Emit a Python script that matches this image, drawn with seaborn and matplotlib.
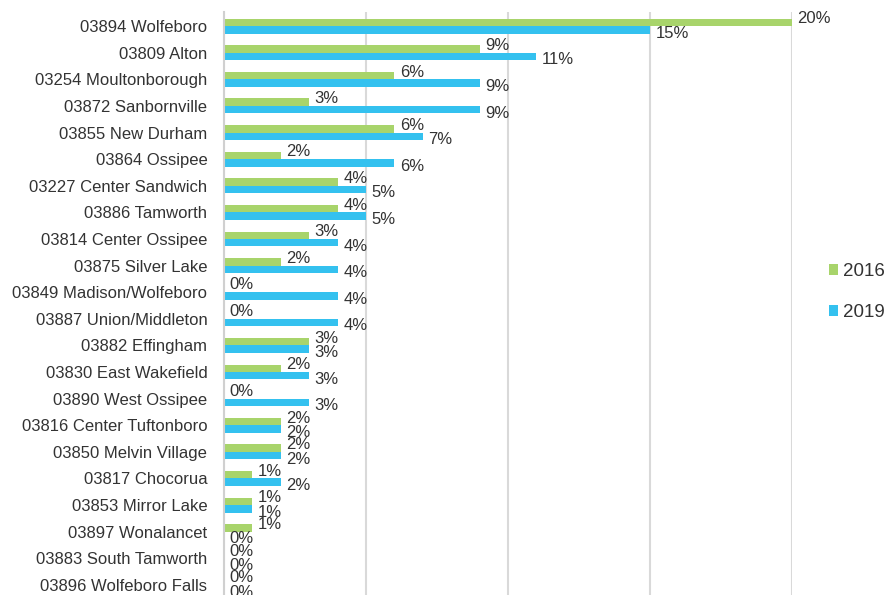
import numpy as np
import pandas as pd
import matplotlib
matplotlib.use('Agg')
import matplotlib.pyplot as plt
import seaborn as sns

towns = ['03894 Wolfeboro', '03809 Alton', '03254 Moultonborough', '03872 Sanbornville',
         '03855 New Durham', '03864 Ossipee', '03227 Center Sandwich', '03886 Tamworth',
         '03814 Center Ossipee', '03875 Silver Lake', '03849 Madison/Wolfeboro',
         '03887 Union/Middleton', '03882 Effingham', '03830 East Wakefield',
         '03890 West Ossipee', '03816 Center Tuftonboro', '03850 Melvin Village',
         '03817 Chocorua', '03853 Mirror Lake', '03897 Wonalancet',
         '03883 South Tamworth', '03896 Wolfeboro Falls']
pct_2016 = [20, 9, 6, 3, 6, 2, 4, 4, 3, 2, 0, 0, 3, 2, 0, 2, 2, 1, 1, 1, 0, 0]
pct_2019 = [15, 11, 9, 9, 7, 6, 5, 5, 4, 4, 4, 4, 3, 3, 3, 2, 2, 2, 1, 0, 0, 0]
years = ['2016', '2019']

df = pd.DataFrame({
    'town': towns * 2,
    'pct': pct_2016 + pct_2019,
    'year': [years[0]] * len(towns) + [years[1]] * len(towns),
})

sns.set_style('white')
plt.rcParams['font.family'] = ['Liberation Sans', 'DejaVu Sans']
txt = '#333333'

fig = plt.figure(figsize=(8.9, 5.95), dpi=100)
ax = fig.add_axes([224/890, 0.0, (792-224)/890, 1 - 12/595])

sns.barplot(data=df, y='town', x='pct', hue='year', orient='h',
            palette=['#a8d46b', '#34c1ef'], saturation=1, width=0.56,
            linewidth=0, ax=ax, legend=True)

ax.set_xlim(0, 20)
ax.set_ylim(21.38, -0.53)
ax.set_xticks([0, 5, 10, 15, 20])
ax.set_xticklabels([])
ax.xaxis.grid(True, color='#d9d9d9', linewidth=1.5)
ax.set_axisbelow(True)
ax.tick_params(axis='both', length=0)
ax.tick_params(axis='y', labelsize=12, labelcolor=txt, pad=12)
ax.set_xlabel('')
ax.set_ylabel('')
for side in ['top', 'right', 'bottom']:
    ax.spines[side].set_visible(False)
ax.spines['left'].set_color('#d0d0d0')
ax.spines['left'].set_linewidth(1.5)

# data labels, 2016 nudged up, 2019 nudged down
for cont, dy, vals in zip(ax.containers, [2.5, -2.5], [pct_2016, pct_2019]):
    for patch, v in zip(cont.patches, vals):
        yc = patch.get_y() + patch.get_height() / 2
        ax.annotate(f'{v}%', xy=(patch.get_width(), yc), xytext=(4, dy),
                    textcoords='offset points', ha='left', va='center',
                    fontsize=12, color=txt, annotation_clip=False)

handles, labels = ax.get_legend_handles_labels()
ax.legend(handles, labels, loc='center left', frameon=False,
          bbox_to_anchor=(812/890, 1 - 292/595), bbox_transform=fig.transFigure,
          handlelength=0.5, handleheight=0.5, handletextpad=0.25,
          labelspacing=1.3, fontsize=13.5, labelcolor=txt)

fig.savefig('out.png', dpi=100)
